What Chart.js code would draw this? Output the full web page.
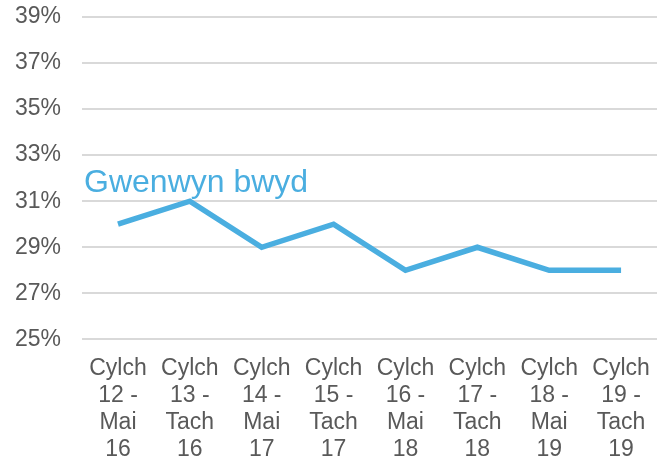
<!DOCTYPE html>
<html>
<head>
<meta charset="utf-8">
<script src="https://cdn.jsdelivr.net/npm/chart.js@4/dist/chart.umd.min.js"></script>
<style>
  html, body { margin: 0; padding: 0; background: #fff; }
  #wrap { width: 666px; height: 462px; }
</style>
</head>
<body>
<div id="wrap"><canvas id="myChart" width="666" height="462"></canvas></div>
<script>
// Datos del gráfico
const categories = [
  ["Cylch", "12 -", "Mai", "16"],
  ["Cylch", "13 -", "Tach", "16"],
  ["Cylch", "14 -", "Mai", "17"],
  ["Cylch", "15 -", "Tach", "17"],
  ["Cylch", "16 -", "Mai", "18"],
  ["Cylch", "17 -", "Tach", "18"],
  ["Cylch", "18 -", "Mai", "19"],
  ["Cylch", "19 -", "Tach", "19"]
];
const seriesName = "Gwenwyn bwyd";
const values = [30, 31, 29, 30, 28, 29, 28, 28];
const yMin = 25;
const yMax = 39;
const yStep = 2;

const lineColor = "#4aaee0";
const textColor = "#595959";
const fontFamily = "'Liberation Sans', Arial, sans-serif";

// Etiqueta de la serie dibujada sobre el gráfico
const seriesLabel = {
  id: "seriesLabel",
  afterDatasetsDraw(chart) {
    const { ctx, chartArea, scales } = chart;
    ctx.save();
    ctx.font = "32px " + fontFamily;
    ctx.fillStyle = lineColor;
    ctx.textAlign = "left";
    ctx.textBaseline = "alphabetic";
    ctx.fillText(seriesName, chartArea.left + 2, scales.y.getPixelForValue(31.4));
    ctx.restore();
  }
};

new Chart(document.getElementById("myChart").getContext("2d"), {
  type: "line",
  data: {
    labels: categories,
    datasets: [{
      label: seriesName,
      data: values,
      borderColor: lineColor,
      borderWidth: 5.5,
      pointRadius: 0,
      tension: 0,
      fill: false
    }]
  },
  options: {
    responsive: false,
    animation: false,
    layout: { padding: { top: 17, right: 9, left: -6, bottom: -9 } },
    plugins: {
      legend: { display: false },
      tooltip: { enabled: false }
    },
    scales: {
      x: {
        offset: true,
        grid: { display: false },
        border: { display: false },
        ticks: {
          color: textColor,
          font: { family: fontFamily, size: 23, lineHeight: 1.17 },
          maxRotation: 0,
          autoSkip: false,
          padding: 8
        }
      },
      y: {
        min: yMin,
        max: yMax,
        border: { display: false },
        grid: { color: "#d9d9d9", lineWidth: 2, drawTicks: false },
        ticks: {
          stepSize: yStep,
          color: textColor,
          font: { family: fontFamily, size: 23 },
          padding: 21,
          callback: (v) => v + "%"
        },
        afterFit(scale) {
          scale.paddingTop = 0;
        }
      }
    }
  },
  plugins: [seriesLabel]
});
</script>
</body>
</html>
